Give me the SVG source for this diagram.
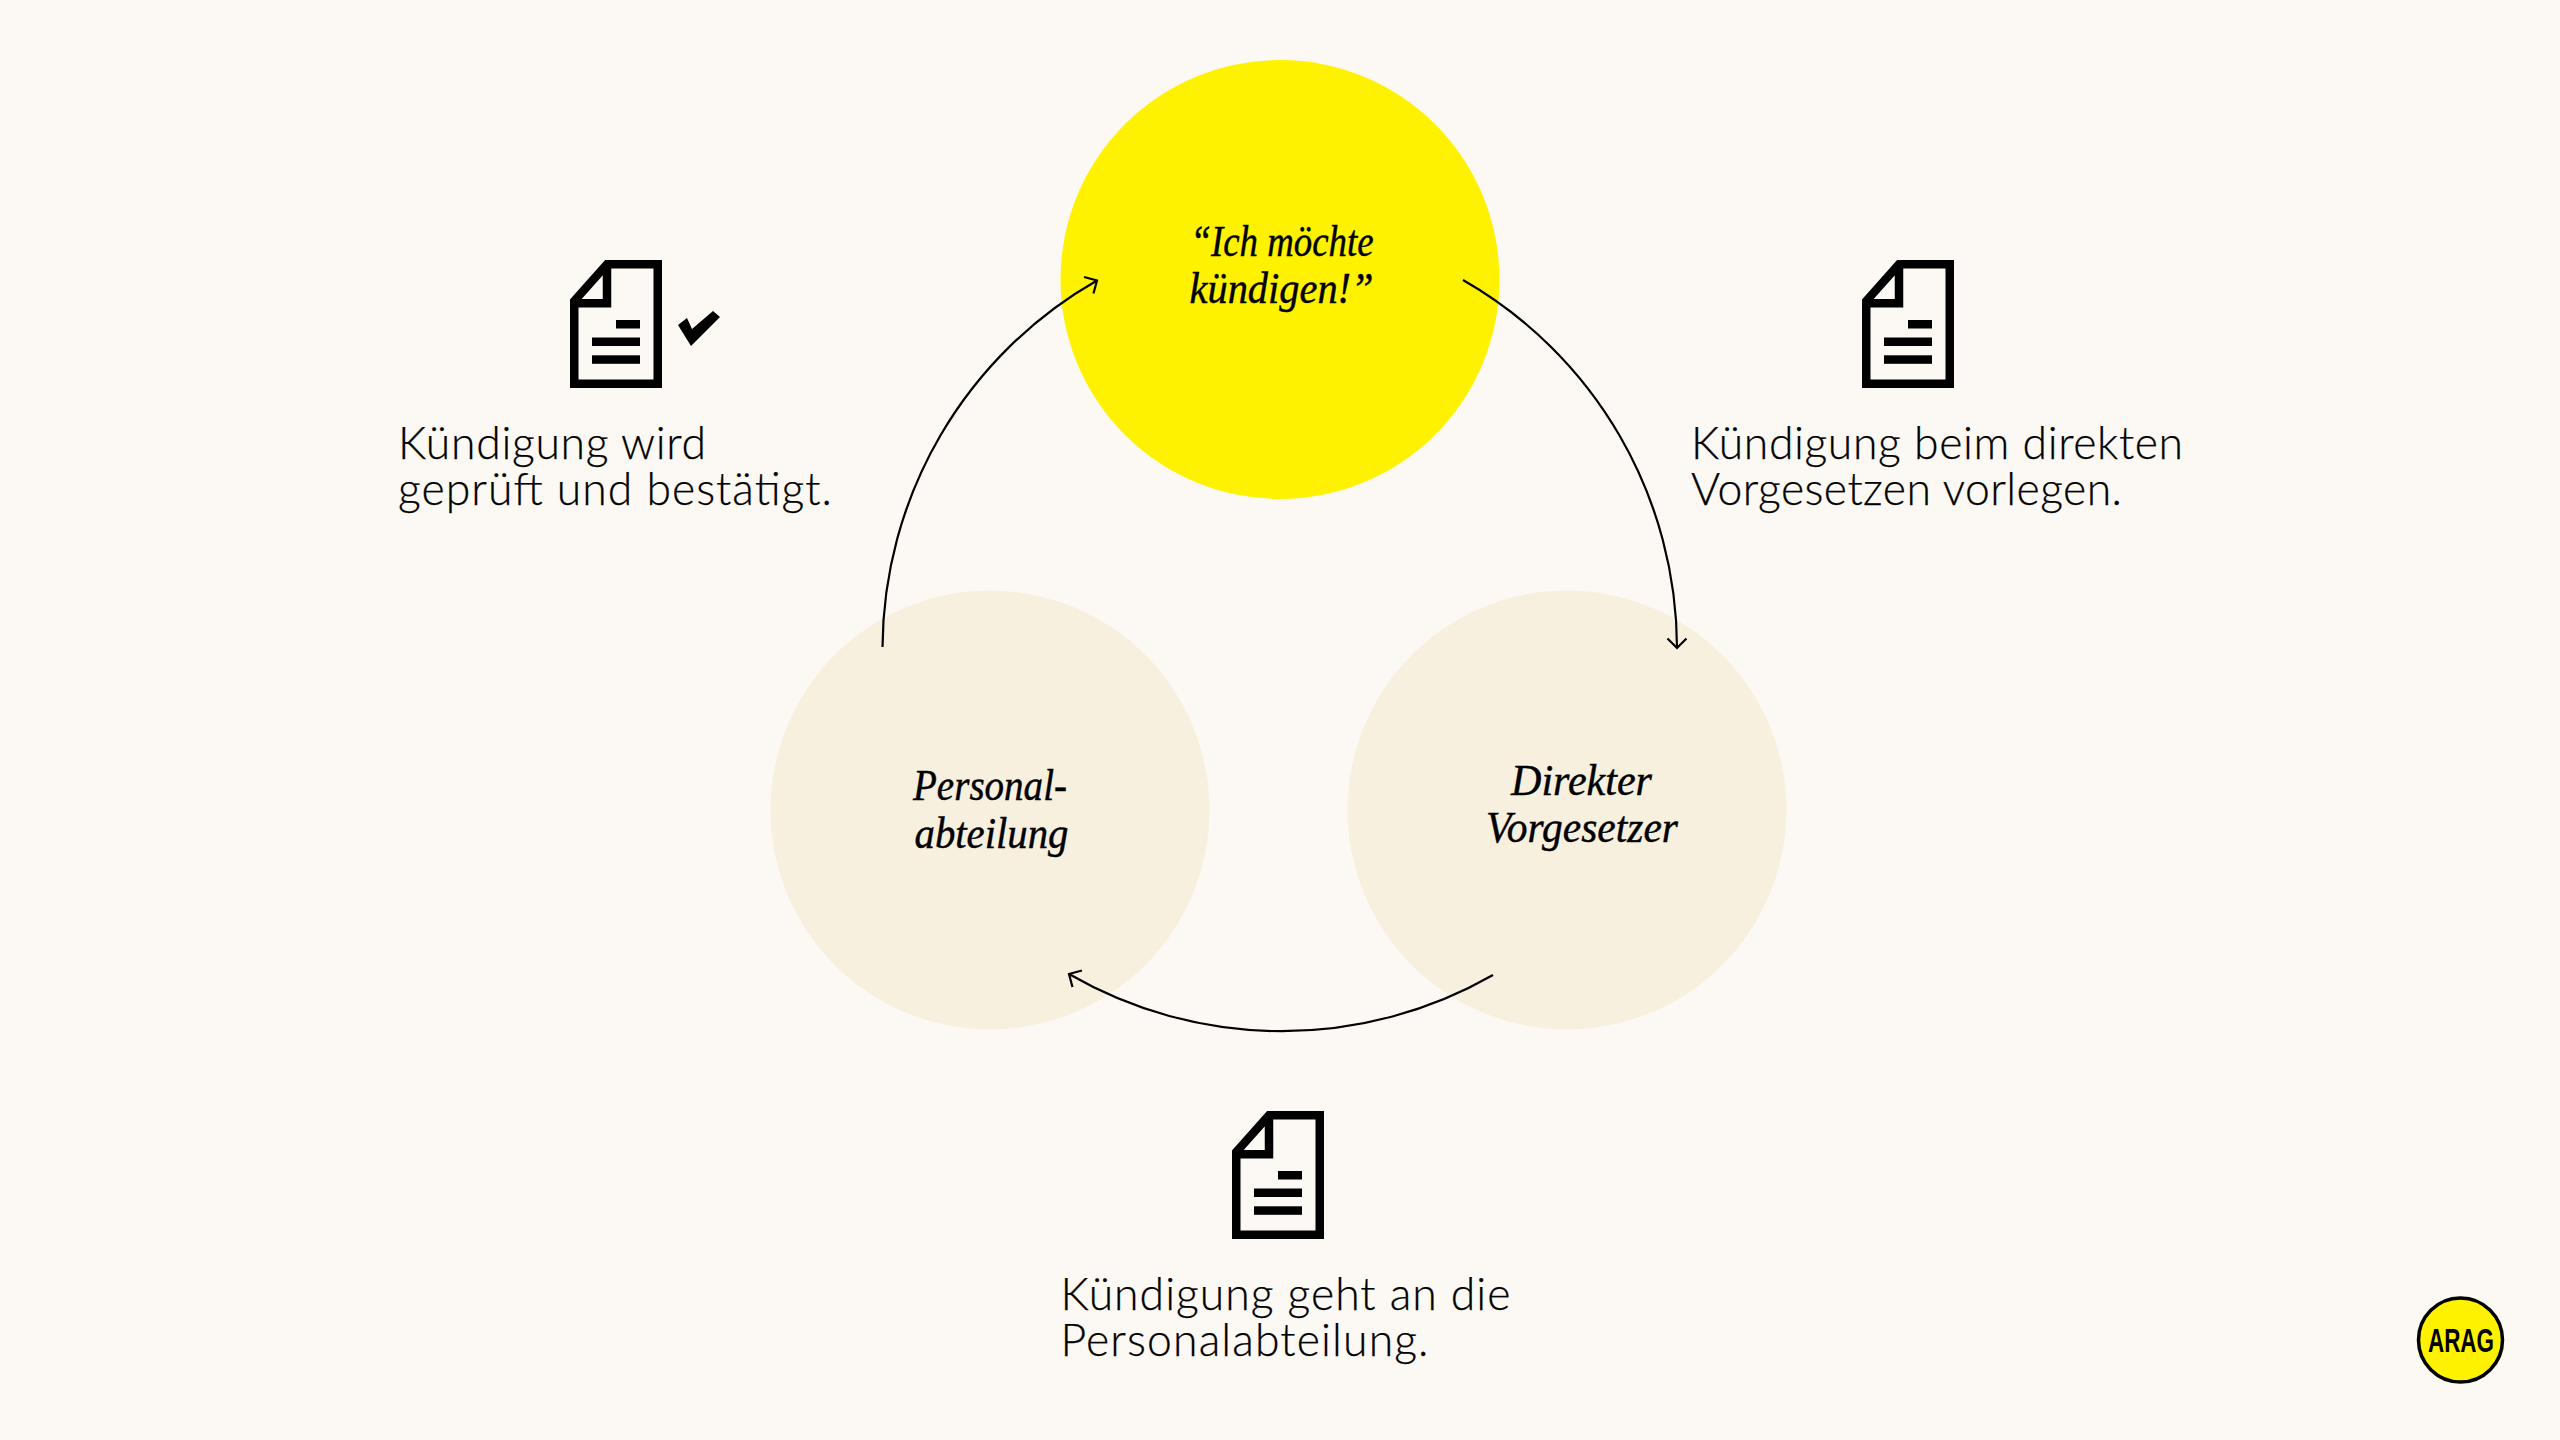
<svg xmlns="http://www.w3.org/2000/svg" width="2560" height="1440" viewBox="0 0 2560 1440">
<style>
.cap{font-family:"Lato","Liberation Sans",sans-serif;font-weight:300;font-size:44.5px;fill:#000;stroke:#000;stroke-width:.25}
.q{font-family:"Liberation Serif",serif;font-style:italic;font-size:45px;fill:#000;stroke:#000;stroke-width:.45}
.c{fill:none;stroke:#000;stroke-width:2.2}
.d{fill:none;stroke:#000;stroke-width:8.5}
.b{fill:#000}
</style>
<defs>
<marker id="a" viewBox="-12 -12 14 24" markerWidth="14" markerHeight="24" refX="0" refY="0" orient="auto" markerUnits="userSpaceOnUse"><path d="M-9.500,-9.500 L0,0 L-9.500,9.500" fill="none" stroke="#000" stroke-width="2.2"/></marker>
<g id="doc"><path class="d" d="M4.250,41 L37,4.250 H87.750 V123.750 H4.250 Z M4.250,43.300 H37 V4" /><rect class="b" x="46" y="60" width="24" height="8.500"/><rect class="b" x="22" y="77.500" width="48" height="8.500"/><rect class="b" x="22" y="95.300" width="48" height="8.500"/></g>
</defs>
<rect width="2560" height="1440" fill="#fcf9f4"/>
<g id="node-kuendigen"><circle cx="1280" cy="279.500" r="219.500" fill="#fff200"/><text class="q" x="1190.500" y="256" textLength="183" lengthAdjust="spacingAndGlyphs">“Ich möchte</text><text class="q" x="1189.500" y="303" textLength="184" lengthAdjust="spacingAndGlyphs">kündigen!”</text></g>
<g id="node-vorgesetzer"><circle cx="1567" cy="810" r="219.500" fill="#f8f0df"/><text class="q" x="1511" y="795" textLength="141" lengthAdjust="spacingAndGlyphs">Direkter</text><text class="q" x="1486" y="842" textLength="192" lengthAdjust="spacingAndGlyphs">Vorgesetzer</text></g>
<g id="node-personal"><circle cx="990" cy="810" r="219.500" fill="#f8f0df"/><text class="q" x="913" y="800" textLength="154" lengthAdjust="spacingAndGlyphs">Personal-</text><text class="q" x="914.500" y="847.500" textLength="154" lengthAdjust="spacingAndGlyphs">abteilung</text></g>
<g id="connectors">
<path class="c" marker-end="url(#a)" d="M1463,280 A425,425 0 0 1 1677,648"/>
<path class="c" marker-end="url(#a)" d="M1493,975 A425,425 0 0 1 1069,974"/>
<path class="c" marker-end="url(#a)" d="M882.500,647 A425,425 0 0 1 1097,280.500"/>
</g>
<g id="step-geprueft"><use href="#doc" x="570" y="260"/><path class="b" d="M678,325 L687,318 L692,329 L713,311 L720,317 L691,346 Z"/><text class="cap" x="398" y="459" textLength="308">Kündigung wird</text><text class="cap" x="398" y="505" textLength="434">geprüft und bestätigt.</text></g>
<g id="step-vorlegen"><use href="#doc" x="1862" y="260"/><text class="cap" x="1691" y="459" textLength="492">Kündigung beim direkten</text><text class="cap" x="1691" y="505" textLength="431">Vorgesetzen vorlegen.</text></g>
<g id="step-personal"><use href="#doc" x="1232" y="1111"/><text class="cap" x="1060.500" y="1310" textLength="450">Kündigung geht an die</text><text class="cap" x="1060.500" y="1356" textLength="368">Personalabteilung.</text></g>
<g id="logo"><circle cx="2460.500" cy="1340" r="42" fill="#fff200" stroke="#000" stroke-width="3.500"/><text x="2461" y="1352" text-anchor="middle" font-family="'Liberation Sans',sans-serif" font-weight="700" font-size="33" textLength="66" lengthAdjust="spacingAndGlyphs" fill="#000">ARAG</text></g>
</svg>
